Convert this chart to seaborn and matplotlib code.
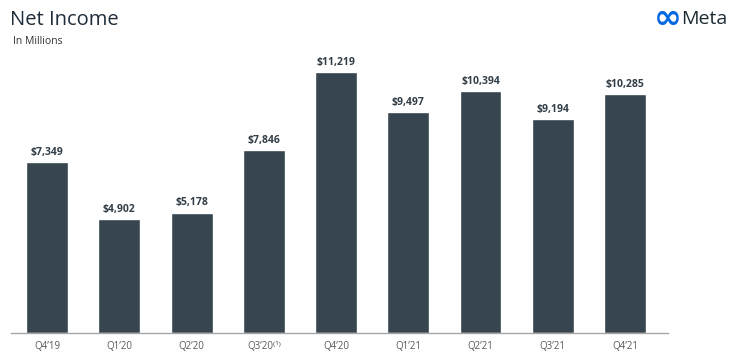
import matplotlib
matplotlib.use("Agg")
import matplotlib.pyplot as plt
import seaborn as sns
import pandas as pd

quarters = ["Q4\u201919", "Q1\u201920", "Q2\u201920", "Q3\u201920\u207d\u00b9\u207e", "Q4\u201920",
            "Q1\u201921", "Q2\u201921", "Q3\u201921", "Q4\u201921"]
net_income = [7349, 4902, 5178, 7846, 11219, 9497, 10394, 9194, 10285]
value_labels = ["$7,349", "$4,902", "$5,178", "$7,846", "$11,219",
                "$9,497", "$10,394", "$9,194", "$10,285"]

sns.set_theme(style="white")
plt.rcParams["font.family"] = ["Open Sans", "DejaVu Sans"]

df = pd.DataFrame({"quarter": quarters, "value": net_income})

fig = plt.figure(figsize=(7.4, 3.57), dpi=100)
ax = fig.add_axes([0.015, 0.0672, 0.888, 0.782])
sns.barplot(data=df, x="quarter", y="value", color="#36454F", width=0.58,
            saturation=1, ax=ax)
ax.set_xlim(-0.5, 8.6)
ax.set_ylim(0, 12000)
ax.set_xlabel("")
ax.set_ylabel("")
ax.set_yticks([])
for s in ["top", "right", "left"]:
    ax.spines[s].set_visible(False)
ax.spines["bottom"].set_color("#a6a6a6")
ax.spines["bottom"].set_linewidth(1.0)
ax.tick_params(axis="x", length=0, pad=6, labelsize=7, colors="#595959")

for i, (v, lab) in enumerate(zip(net_income, value_labels)):
    ax.annotate(lab.replace("$", r"\$"), (i, v), xytext=(0, 3), textcoords="offset points",
                ha="center", va="bottom", fontsize=7.5, fontweight="bold", color="#333f48")

fig.text(0.014, 0.945, "Net Income", fontsize=14.5, color="#1f2d3a", va="center", ha="left")
fig.text(0.018, 0.885, "In Millions", fontsize=7.5, color="#333333", va="center", ha="left")
fig.text(0.903, 0.948, "\u221e", fontsize=24, color="#0668E1", fontweight="bold",
         va="center", ha="center", family=["DejaVu Sans"])
fig.text(0.92, 0.948, "Meta", fontsize=14, color="#1c2b33", va="center", ha="left")

fig.savefig("out.png", dpi=100)
